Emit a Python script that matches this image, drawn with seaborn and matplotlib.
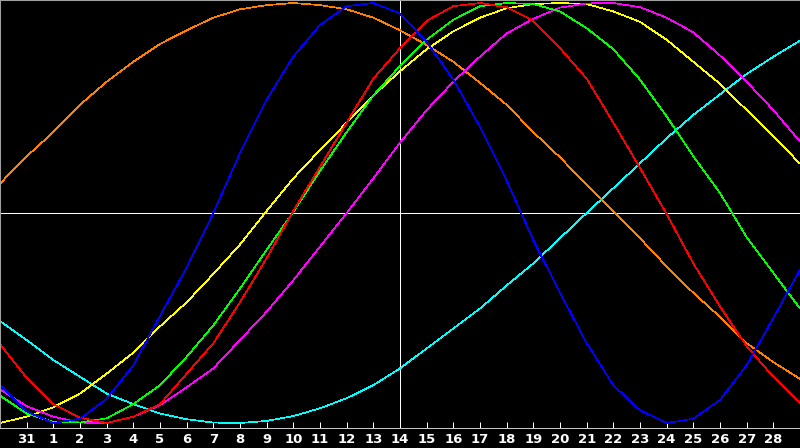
import numpy as np
import pandas as pd
import matplotlib
matplotlib.use('Agg')
import matplotlib.pyplot as plt
import seaborn as sns


# Day labels under the grid steps 1..29 (step 0 and 30 are the plot edges)
day_labels = ['31', '1', '2', '3', '4', '5', '6', '7', '8', '9', '10', '11', '12', '13', '14',
              '15', '16', '17', '18', '19', '20', '21', '22', '23', '24', '25', '26', '27', '28']

# Cycle values, one per day step (-1 .. 1)
physical = [-0.82, -0.945, -1.0, -0.98, -0.885, -0.725, -0.49, -0.26, 0.0, 0.285, 0.54,
            0.745, 0.895, 0.985, 1.0, 0.95, 0.815, 0.635, 0.41, 0.155, -0.13,
            -0.38, -0.62, -0.82, -0.94, -1.0, -0.98, -0.89, -0.725, -0.5, -0.27]
emotional = [-0.625, -0.785, -0.91, -0.975, -1.0, -0.97, -0.91, -0.765, -0.62, -0.425, -0.215,
             0.01, 0.22, 0.43, 0.64, 0.785, 0.915, 0.985, 1.0, 0.98, 0.915,
             0.785, 0.64, 0.43, 0.215, -0.005, -0.24, -0.445, -0.635, -0.78, -0.905]
intellectual = [-0.87, -0.955, -0.995, -0.998, -0.978, -0.91, -0.82, -0.685, -0.535, -0.36, -0.175,
                0.005, 0.2, 0.385, 0.56, 0.7, 0.825, 0.92, 0.985, 1.0, 0.995,
                0.96, 0.88, 0.78, 0.635, 0.46, 0.27, 0.095, -0.115, -0.285, -0.455]
intuitive = [-0.84, -0.92, -0.97, -0.998, -1.0, -0.97, -0.915, -0.83, -0.74, -0.605, -0.47,
             -0.32, -0.16, 0.0, 0.165, 0.335, 0.49, 0.625, 0.745, 0.855, 0.925,
             0.978, 0.998, 1.0, 0.98, 0.93, 0.86, 0.75, 0.625, 0.49, 0.34]
aesthetic = [-1.0, -0.97, -0.925, -0.86, -0.765, -0.665, -0.54, -0.425, -0.29, -0.15, 0.01,
             0.165, 0.30, 0.43, 0.56, 0.675, 0.78, 0.865, 0.93, 0.975, 0.995,
             1.0, 0.995, 0.96, 0.91, 0.825, 0.72, 0.615, 0.49, 0.365, 0.235]
awareness = [0.14, 0.27, 0.385, 0.515, 0.625, 0.72, 0.805, 0.87, 0.93, 0.97, 0.99,
             1.0, 0.99, 0.97, 0.93, 0.87, 0.8, 0.72, 0.62, 0.515, 0.385,
             0.265, 0.135, 0.01, -0.12, -0.255, -0.38, -0.495, -0.62, -0.71, -0.79]
spiritual = [-0.515, -0.605, -0.7, -0.78, -0.86, -0.91, -0.955, -0.982, -0.998, -1.0, -0.99,
             -0.967, -0.93, -0.882, -0.82, -0.74, -0.645, -0.55, -0.455, -0.345, -0.24,
             -0.12, 0.0, 0.118, 0.237, 0.356, 0.467, 0.565, 0.662, 0.744, 0.82]

colors = {'spiritual': '#00ffff', 'awareness': '#ff8000', 'aesthetic': '#ffff00',
          'intuitive': '#ff00ff', 'intellectual': '#00ff00', 'emotional': '#ff0000',
          'physical': '#0000ff'}

# long form table for seaborn
df = pd.DataFrame({'step': np.arange(len(physical)),
                   'spiritual': spiritual, 'awareness': awareness, 'aesthetic': aesthetic,
                   'intuitive': intuitive, 'intellectual': intellectual,
                   'emotional': emotional, 'physical': physical})
long_df = df.melt(id_vars='step', var_name='cycle', value_name='value')

sns.set_theme(style='ticks', rc={'axes.facecolor': 'black', 'figure.facecolor': 'black'})
plt.rcParams['font.family'] = ['DejaVu Sans']

fig = plt.figure(figsize=(8, 4.48), dpi=100)
ax = fig.add_axes([0, 20 / 448, 1, 428 / 448])

sns.lineplot(data=long_df, x='step', y='value', hue='cycle', palette=colors,
             hue_order=list(colors), legend=False, errorbar=None, ax=ax)

# thin pixel lines like the original
for line in ax.lines:
    line.set_linewidth(0.5)
    line.set_antialiased(False)
    line.set_zorder(2)

# cross hair through today / zero line
ax.axhline(0, color='white', lw=0.72, antialiased=False, zorder=1)
ax.axvline(15, color='white', lw=0.72, antialiased=False, zorder=1)

ax.set_xlim(0, 30)
ax.set_ylim(-1.0238, 1.0143)
ax.set_xticks(range(1, 30))
ax.set_xticklabels(day_labels)
ax.set_yticks([])
ax.set_xlabel('')
ax.set_ylabel('')
ax.tick_params(axis='x', direction='in', length=4, width=0.72, color='white',
               labelcolor='white', labelsize=9.5, pad=3.5)
for t in ax.get_xticklabels():
    t.set_fontweight('bold')

for side in ['left', 'top']:
    ax.spines[side].set_color('#a0a0a0')
    ax.spines[side].set_linewidth(1.5)
ax.spines['bottom'].set_color('#c8c8c8')
ax.spines['bottom'].set_linewidth(0.72)
ax.spines['right'].set_visible(False)

fig.savefig('out.png', dpi=100, facecolor='black')
